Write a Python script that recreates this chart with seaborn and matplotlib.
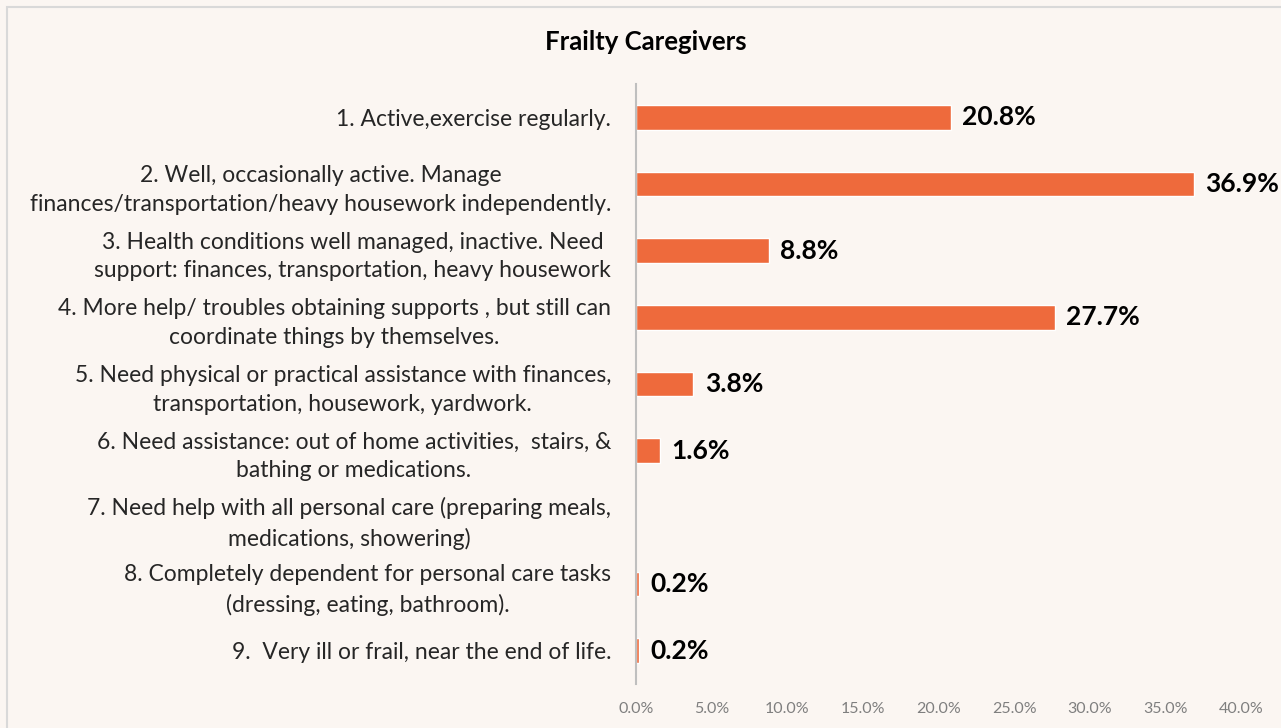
import matplotlib
matplotlib.use("Agg")
import matplotlib.pyplot as plt
import matplotlib.patches as patches
import seaborn as sns
import pandas as pd

# data
categories = [
    "1. Active,exercise regularly.",
    "2. Well, occasionally active. Manage\nfinances/transportation/heavy housework independently.",
    "3. Health conditions well managed, inactive. Need\nsupport: finances, transportation, heavy housework",
    "4. More help/ troubles obtaining supports , but still can\ncoordinate things by themselves.",
    "5. Need physical or practical assistance with finances,\ntransportation, housework, yardwork.",
    "6. Need assistance: out of home activities,  stairs, &\nbathing or medications.",
    "7. Need help with all personal care (preparing meals,\nmedications, showering)",
    "8. Completely dependent for personal care tasks\n(dressing, eating, bathroom).",
    "9.  Very ill or frail, near the end of life.",
]
values = [20.8, 36.9, 8.8, 27.7, 3.8, 1.6, None, 0.2, 0.2]
xticks = [0, 5, 10, 15, 20, 25, 30, 35, 40]

df = pd.DataFrame({"cat": categories, "val": [v if v is not None else 0 for v in values]})

bg = "#FBF6F2"
sns.set_style("white")
plt.rcParams["font.family"] = ["Lato", "DejaVu Sans"]

fig = plt.figure(figsize=(12.81, 7.28), dpi=100, facecolor=bg)
ax = fig.add_axes([0.4965, 0.0604, 0.4723, 0.8242])
ax.set_facecolor(bg)

sns.barplot(data=df, x="val", y="cat", orient="h", color="#EE6A3C",
            saturation=1, width=0.37, ax=ax)

for i, v in enumerate(values):
    if v is None:
        continue
    ax.annotate(f"{v:.1f}%", (v, i), xytext=(8, 0), textcoords="offset points",
                va="center", ha="left", fontsize=19, fontweight="bold", color="black")

ax.set_xlim(0, 40)
ax.set_ylim(8.5, -0.5)
ax.set_xticks(xticks)
ax.set_xticklabels([f"{t:.1f}%" for t in xticks], color="#7F7F7F", fontsize=11.5)
ax.tick_params(axis="x", length=0, pad=13)
ax.tick_params(axis="y", length=0, pad=18)
for lbl in ax.get_yticklabels():
    lbl.set_multialignment("center")
    lbl.set_fontsize(16.5)
    lbl.set_linespacing(1.45)
    lbl.set_color("#262626")
ax.set_xlabel("")
ax.set_ylabel("")
for s in ["top", "right", "bottom"]:
    ax.spines[s].set_visible(False)
ax.spines["left"].set_color("#BFBFBF")
ax.spines["left"].set_linewidth(1.5)

fig.text(0.504, 0.942, "Frailty Caregivers", ha="center", va="center",
         fontsize=18.5, fontweight="bold", color="black")

fig.patches.append(patches.Rectangle((7 / 1281, -0.1), 1.2, 1 - 7 / 728 + 0.1,
                                     transform=fig.transFigure, fill=False,
                                     edgecolor="#D9D9D9", linewidth=1.5))

fig.savefig("out.png", dpi=100, facecolor=bg)
